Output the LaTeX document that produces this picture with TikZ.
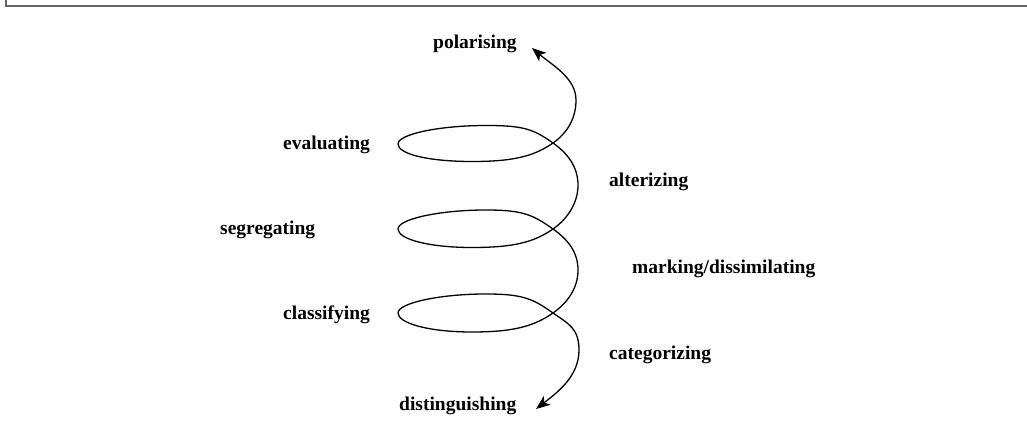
\documentclass[tikz,border=0pt]{standalone}
\usepackage{fontspec}
\setmainfont{Liberation Serif}
\usetikzlibrary{arrows.meta,calc}
\tikzset{
  lbl/.style={font=\fontsize{19.5}{22}\selectfont\bfseries, inner sep=0pt, anchor=base west},
  tipend/.tip={Stealth[length=14pt,width=11pt,inset=3.5pt]},
  coil/.style={line width=1.3pt, black, tipend-tipend},
  frameline/.style={line width=2pt, black!60}
}
\begin{document}
\begin{tikzpicture}[x=1pt,y=1pt]
  \useasboundingbox (0,0) rectangle (1027,443);
  % frame: top and left edges
  \draw[frameline] (5.5,443) -- (5.5,436.5) -- (1027,436.5);

  % stage labels
  \node[lbl] (pol) at (433,394) {polarising};
  \node[lbl] (eva) at (283,293) {evaluating};
  \node[lbl] (seg) at (220,208) {segregating};
  \node[lbl] (cla) at (283,123.5) {classifying};
  \node[lbl] (dis) at (399,32) {distinguishing};
  \node[lbl] (alt) at (609,256.5) {alterizing};
  \node[lbl] (mar) at (632,169) {marking/dissimilating};
  \node[lbl] (cat) at (609,83) {categorizing};

  % points of the coil
  \coordinate (T)  at (532,395);
  \coordinate (R1) at (576,343);
  \coordinate (C1) at (553,300);
  \coordinate (B1) at (472,281.5);
  \coordinate (L1) at (398,299);
  \coordinate (U1) at (486,317.5);
  \coordinate (R2) at (578,258);
  \coordinate (C2) at (553,214);
  \coordinate (B2) at (472,195.5);
  \coordinate (L2) at (398,214);
  \coordinate (U2) at (486,233);
  \coordinate (R3) at (578,173);
  \coordinate (C3) at (553,130);
  \coordinate (B3) at (472,111);
  \coordinate (L3) at (398,130);
  \coordinate (U3) at (486,149);
  \coordinate (R4) at (579,93);
  \coordinate (D)  at (536,34);

  % tangent offsets at a crossing: towards the right turn and towards the loop
  \def\ax{14.7}\def\ay{10.3}
  \def\ex{19.7}\def\ey{13.8}

  % the coil: a loop on the left and a wide turn on the right for every level
  \draw[coil] (T) .. controls ($(T)+(20,-17)$) and ($(R1)+(0,22)$) .. (R1)
    .. controls ($(R1)+(0,-18)$) and ($(C1)+(\ax,\ay)$) .. (C1)
    .. controls ($(C1)+(-\ex,-\ey)$) and ($(B1)+(40,0)$) .. (B1)
    .. controls ($(B1)+(-44,0)$) and ($(L1)+(0,-10)$) .. (L1)
    .. controls ($(L1)+(0,10)$) and ($(U1)+(-46,0)$) .. (U1)
    .. controls ($(U1)+(38,0)$) and ($(C1)+(-\ex,\ey)$) .. (C1)
    .. controls ($(C1)+(\ax,-\ay)$) and ($(R2)+(0,18)$) .. (R2)
    .. controls ($(R2)+(0,-18)$) and ($(C2)+(\ax,\ay)$) .. (C2)
    .. controls ($(C2)+(-\ex,-\ey)$) and ($(B2)+(40,0)$) .. (B2)
    .. controls ($(B2)+(-44,0)$) and ($(L2)+(0,-10)$) .. (L2)
    .. controls ($(L2)+(0,10)$) and ($(U2)+(-46,0)$) .. (U2)
    .. controls ($(U2)+(38,0)$) and ($(C2)+(-\ex,\ey)$) .. (C2)
    .. controls ($(C2)+(\ax,-\ay)$) and ($(R3)+(0,18)$) .. (R3)
    .. controls ($(R3)+(0,-18)$) and ($(C3)+(\ax,\ay)$) .. (C3)
    .. controls ($(C3)+(-\ex,-\ey)$) and ($(B3)+(40,0)$) .. (B3)
    .. controls ($(B3)+(-44,0)$) and ($(L3)+(0,-10)$) .. (L3)
    .. controls ($(L3)+(0,10)$) and ($(U3)+(-46,0)$) .. (U3)
    .. controls ($(U3)+(38,0)$) and ($(C3)+(-\ex,\ey)$) .. (C3)
    .. controls ($(C3)+(\ax,-\ay)$) and ($(R4)+(0,22)$) .. (R4)
    .. controls ($(R4)+(0,-26)$) and ($(D)+(22,17)$) .. (D);
\end{tikzpicture}
\end{document}
